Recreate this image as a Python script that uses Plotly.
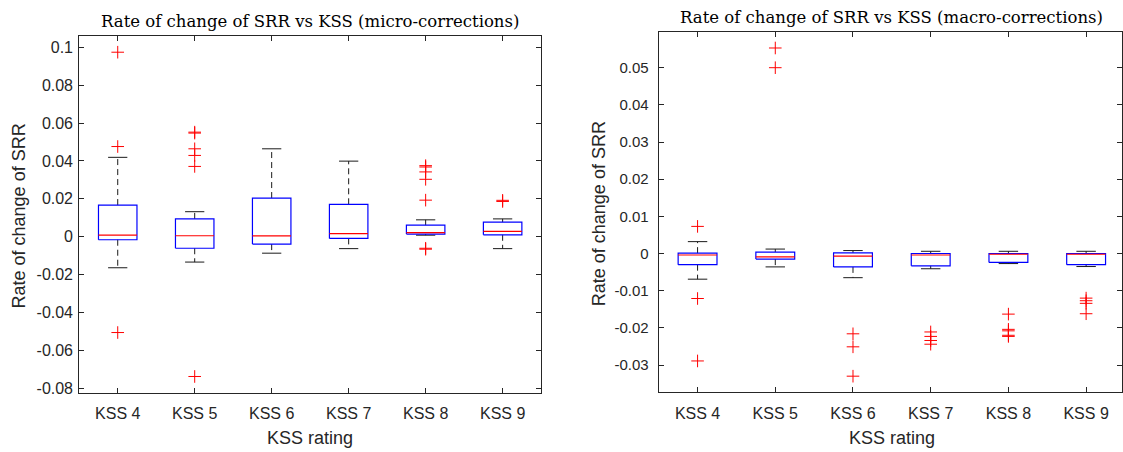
import plotly.graph_objects as go

# ---------------- data ----------------
categories = ["KSS 4", "KSS 5", "KSS 6", "KSS 7", "KSS 8", "KSS 9"]

micro_q1 = [-0.0016, -0.0061, -0.0039, -0.0009, 0.0014, 0.0010]
micro_median = [0.0008, 0.0005, 0.0004, 0.0016, 0.0022, 0.0028]
micro_q3 = [0.0167, 0.0094, 0.0204, 0.0171, 0.0061, 0.0077]
micro_lower = [-0.0164, -0.0134, -0.0087, -0.0063, 0.0008, -0.0063]
micro_upper = [0.0419, 0.0132, 0.0464, 0.0399, 0.0089, 0.0094]
micro_outliers = [
    [0.0974, 0.0476, -0.0506],
    [0.0552, 0.0547, 0.0464, 0.0429, 0.0371, -0.0738],
    [],
    [],
    [0.0375, 0.0368, 0.0342, 0.0303, 0.0193, -0.0061, -0.0066],
    [0.0192, 0.0186],
]

macro_q1 = [-0.0030, -0.0015, -0.0036, -0.0033, -0.0024, -0.0030]
macro_median = [-0.0004, -0.0009, -0.0007, -0.0004, -0.0002, -0.0002]
macro_q3 = [0.0001, 0.0004, 0.0002, 0.0000, 0.0000, 0.0000]
macro_lower = [-0.0069, -0.0036, -0.0065, -0.0041, -0.0027, -0.0035]
macro_upper = [0.0032, 0.0012, 0.0008, 0.0006, 0.0006, 0.0006]
macro_outliers = [
    [0.0073, -0.0121, -0.0289],
    [0.0553, 0.0500],
    [-0.0216, -0.0251, -0.0330],
    [-0.0211, -0.0223, -0.0234, -0.0244],
    [-0.0163, -0.0204, -0.0208, -0.0220, -0.0223],
    [-0.0120, -0.0127, -0.0134, -0.0162],
]

micro_yticks = [-0.08, -0.06, -0.04, -0.02, 0, 0.02, 0.04, 0.06, 0.08, 0.1]
micro_yticklabels = ["-0.08", "-0.06", "-0.04", "-0.02", "0", "0.02", "0.04", "0.06", "0.08", "0.1"]
macro_yticks = [-0.03, -0.02, -0.01, 0, 0.01, 0.02, 0.03, 0.04, 0.05]
macro_yticklabels = ["-0.03", "-0.02", "-0.01", "0", "0.01", "0.02", "0.03", "0.04", "0.05"]

title_micro = "Rate of change of SRR vs KSS (micro-corrections)"
title_macro = "Rate of change of SRR vs KSS (macro-corrections)"
x_title = "KSS rating"
y_title = "Rate of change of SRR"

# ---------------- geometry / styles ----------------
W, H = 1123, 452
BOX_HW = 0.25
CAP_HW = 0.125
AXIS_COLOR = "#262626"
positions = list(range(len(categories)))


def px_x(p):
    return p / W


def px_y(p):
    return 1 - p / H


def box_traces(q1, med, q3, lo, hi, outl, xa, ya):
    bx, by, mx, my, wx, wy, cx, cy, ox, oy = [], [], [], [], [], [], [], [], [], []
    for i, p in enumerate(positions):
        bx += [p - BOX_HW, p + BOX_HW, p + BOX_HW, p - BOX_HW, p - BOX_HW, None]
        by += [q1[i], q1[i], q3[i], q3[i], q1[i], None]
        mx += [p - BOX_HW, p + BOX_HW, None]
        my += [med[i], med[i], None]
        wx += [p, p, None, p, p, None]
        wy += [q3[i], hi[i], None, q1[i], lo[i], None]
        cx += [p - CAP_HW, p + CAP_HW, None, p - CAP_HW, p + CAP_HW, None]
        cy += [hi[i], hi[i], None, lo[i], lo[i], None]
        for v in outl[i]:
            ox.append(p)
            oy.append(v)
    common = dict(xaxis=xa, yaxis=ya, hoverinfo="skip", showlegend=False)
    return [
        go.Scatter(x=wx, y=wy, mode="lines",
                   line=dict(color="#1a1a1a", width=1, dash="6px,4px"), **common),
        go.Scatter(x=cx, y=cy, mode="lines",
                   line=dict(color="#1a1a1a", width=1), **common),
        go.Scatter(x=bx, y=by, mode="lines",
                   line=dict(color="#0000ff", width=1.2), **common),
        go.Scatter(x=mx, y=my, mode="lines",
                   line=dict(color="#ff0000", width=1.2), **common),
        go.Scatter(x=ox, y=oy, mode="markers",
                   marker=dict(symbol="cross-thin-open", size=9, color="#ff0000",
                               line=dict(color="#ff0000", width=1)), **common),
    ]


fig = go.Figure()
for t in box_traces(micro_q1, micro_median, micro_q3, micro_lower, micro_upper,
                    micro_outliers, "x", "y"):
    fig.add_trace(t)
for t in box_traces(macro_q1, macro_median, macro_q3, macro_lower, macro_upper,
                    macro_outliers, "x2", "y2"):
    fig.add_trace(t)

# pixel layout of the two panels
L_left, L_right, L_top, L_bot = 79.3, 541.6, 36.7, 396.7
R_left, R_top, R_bot = 659.3, 32.3, 396.0
R_step = 77.78
R_xmax = -0.5 + (W - R_left) / R_step

tickfont = dict(family="Liberation Sans, Arial, sans-serif", size=16, color=AXIS_COLOR)
axis_common = dict(showline=True, linecolor=AXIS_COLOR, linewidth=1, mirror="allticks",
                   ticks="inside", ticklen=5, tickcolor=AXIS_COLOR, showgrid=False,
                   zeroline=False, fixedrange=True)

fig.update_layout(
    width=W, height=H, margin=dict(l=0, r=0, t=0, b=0),
    paper_bgcolor="white", plot_bgcolor="white", showlegend=False,
    xaxis=dict(domain=[px_x(L_left), px_x(L_right)], range=[-0.5, 5.5],
               tickvals=positions, ticktext=categories, anchor="y",
               tickfont=tickfont, ticklabelstandoff=6, **axis_common),
    yaxis=dict(domain=[px_y(L_bot), px_y(L_top)], range=[-0.08262, 0.10576],
               tickvals=micro_yticks, ticktext=micro_yticklabels, anchor="x",
               tickfont=tickfont, ticklabelstandoff=2, **axis_common),
    xaxis2=dict(domain=[px_x(R_left), 1.0], range=[-0.5, R_xmax],
                tickvals=positions, ticktext=categories, anchor="y2",
                tickfont=tickfont, ticklabelstandoff=6, **axis_common),
    yaxis2=dict(domain=[px_y(R_bot), px_y(R_top)], range=[-0.03739, 0.0596],
                tickvals=macro_yticks, ticktext=macro_yticklabels, anchor="x2",
                tickfont=dict(tickfont, size=15), ticklabelstandoff=6, **axis_common),
)

title_font = dict(family="DejaVu Serif, serif", size=16.5, color="#000000")
label_font = dict(family="Liberation Sans, Arial, sans-serif", size=18, color=AXIS_COLOR)
R_center = R_left + 3 * R_step

anns = [
    dict(text=title_micro, x=px_x((L_left + L_right) / 2), y=px_y(21.5), font=title_font),
    dict(text=title_macro, x=px_x(R_center), y=px_y(17.5), font=title_font),
    dict(text=x_title, x=px_x((L_left + L_right) / 2), y=px_y(442), font=label_font),
    dict(text=x_title, x=px_x(R_center), y=px_y(442), font=label_font),
    dict(text=y_title, x=px_x(18.7), y=px_y((L_top + L_bot) / 2 + 1), font=label_font, textangle=-90),
    dict(text=y_title, x=px_x(599.5), y=px_y((R_top + R_bot) / 2 + 1), font=label_font, textangle=-90),
]
for a in anns:
    fig.add_annotation(xref="paper", yref="paper", xanchor="center", yanchor="middle",
                       showarrow=False, **a)

fig.write_html("out.html")
